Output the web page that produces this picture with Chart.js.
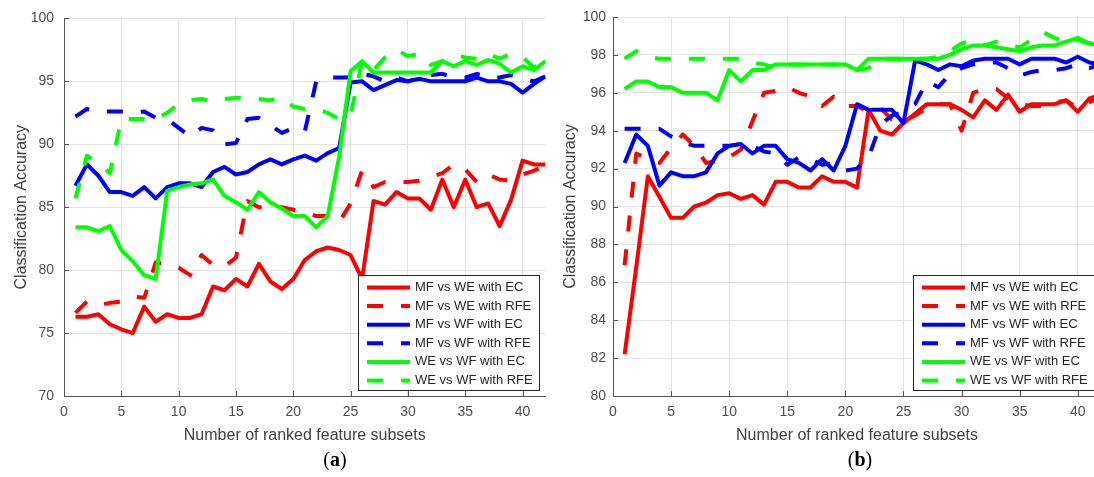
<!DOCTYPE html>
<html>
<head>
<meta charset="utf-8">
<script src="https://cdn.jsdelivr.net/npm/chart.js@4.4.1/dist/chart.umd.min.js"></script>
<style>
  html, body { margin: 0; padding: 0; background: #fff; overflow: hidden; width: 1094px; height: 477px; }
  canvas { position: absolute; top: 0; }
  #chartA { left: 0; }
  #chartB { left: 550px; }
  .caption { position: absolute; top: 448px; width: 60px; text-align: center;
    font-family: "Liberation Serif", serif; font-size: 20px; color: #000; }
</style>
</head>
<body>
<canvas id="chartA" width="555" height="450"></canvas>
<canvas id="chartB" width="555" height="450"></canvas>
<div class="caption" style="left:305px">(<b>a</b>)</div>
<div class="caption" style="left:830px">(<b>b</b>)</div>
<script>
// x: number of ranked feature subsets
const subsets = [1, 2, 3, 4, 5, 6, 7, 8, 9, 10, 11, 12, 13, 14, 15, 16, 17, 18, 19, 20, 21,
  22, 23, 24, 25, 26, 27, 28, 29, 30, 31, 32, 33, 34, 35, 36, 37, 38, 39, 40, 41, 42];
const xTicks = [0, 5, 10, 15, 20, 25, 30, 35, 40];

const seriesLabels = ["MF vs WE with EC", "MF vs WE with RFE", "MF vs WF with EC",
  "MF vs WF with RFE", "WE vs WF with EC", "WE vs WF with RFE"];

// panel (a)
const aMfWeEc = [76.3, 76.3, 76.5, 75.7, 75.3, 75.0, 77.1, 75.9, 76.5, 76.2, 76.2, 76.5, 78.7, 78.4,
  79.3, 78.7, 80.5, 79.1, 78.5, 79.3, 80.8, 81.5, 81.8, 81.6, 81.2, 79.3, 85.5, 85.2, 86.2, 85.7,
  85.7, 84.8, 87.2, 85.0, 87.2, 85.0, 85.3, 83.5, 85.6, 88.7, 88.4, 88.4];
const aMfWeRfe = [76.6, 77.5, 77.2, 77.4, 77.5, 77.9, 77.8, 80.6, 80.5, 80.2, 79.6, 81.2, 80.4, 80.3,
  81.0, 85.5, 85.0, 85.0, 85.0, 84.8, 84.6, 84.3, 84.3, 83.8, 85.3, 87.9, 86.6, 87.0, 87.0, 87.0,
  87.1, 87.4, 87.7, 88.4, 88.0, 87.0, 87.6, 87.2, 87.1, 87.6, 87.9, 88.3];
const aMfWfEc = [86.7, 88.4, 87.5, 86.2, 86.2, 85.9, 86.6, 85.7, 86.6, 86.9, 86.9, 86.6, 87.8, 88.2,
  87.6, 87.8, 88.4, 88.8, 88.4, 88.8, 89.1, 88.7, 89.3, 89.7, 94.9, 95.0, 94.3, 94.7, 95.1, 95.0,
  95.2, 95.0, 95.0, 95.0, 95.0, 95.3, 95.0, 95.0, 94.8, 94.1, 94.8, 95.4];
const aMfWfRfe = [92.2, 92.8, 92.6, 92.6, 92.6, 92.5, 92.6, 92.1, 92.0, 91.3, 90.6, 91.3, 91.1, 90.0,
  90.1, 92.0, 92.1, 91.5, 90.9, 91.3, 91.0, 95.0, 95.3, 95.3, 95.3, 95.6, 95.4, 95.0, 95.3, 95.0,
  95.3, 95.5, 95.6, 95.3, 95.3, 95.6, 95.3, 95.3, 95.5, 95.2, 95.0, 95.4];
const aWeWfEc = [83.4, 83.4, 83.1, 83.5, 81.6, 80.7, 79.6, 79.3, 86.3, 86.6, 86.8, 86.9, 87.2, 85.9,
  85.4, 84.8, 86.2, 85.4, 84.9, 84.3, 84.3, 83.4, 84.3, 89.0, 95.8, 96.6, 95.7, 95.7, 95.7, 95.7,
  95.7, 95.7, 96.6, 96.2, 96.6, 96.3, 96.7, 96.4, 95.7, 96.2, 95.9, 96.6];
const aWeWfRfe = [85.7, 89.1, 88.5, 87.7, 92.0, 92.0, 92.0, 92.0, 92.5, 93.2, 93.5, 93.6, 93.4, 93.6,
  93.7, 93.7, 93.6, 93.5, 93.7, 93.0, 92.8, 92.8, 92.5, 92.0, 92.3, 96.6, 95.9, 96.9, 97.5, 97.0,
  97.2, 96.3, 96.6, 97.1, 96.9, 96.8, 97.2, 96.8, 97.2, 96.9, 96.1, 96.6];

// panel (b)
const bMfWeEc = [82.2, 86.8, 91.6, 90.5, 89.4, 89.4, 90.0, 90.2, 90.6, 90.7, 90.4, 90.6, 90.1, 91.3,
  91.3, 91.0, 91.0, 91.6, 91.3, 91.3, 91.0, 95.1, 94.0, 93.8, 94.4, 94.9, 95.4, 95.4, 95.4, 95.1,
  94.7, 95.6, 95.1, 95.9, 95.0, 95.4, 95.4, 95.4, 95.6, 95.0, 95.7, 95.9];
const bMfWeRfe = [86.9, 92.8, 92.5, 92.3, 93.1, 93.8, 93.2, 92.3, 92.4, 92.6, 93.0, 94.5, 96.0, 96.1,
  96.3, 96.0, 95.8, 95.3, 95.8, 95.3, 95.3, 95.0, 95.2, 94.6, 94.5, 94.8, 95.2, 95.4, 95.4, 94.0,
  96.0, 96.2, 96.2, 95.7, 95.4, 95.3, 95.3, 95.5, 95.6, 95.2, 95.5, 95.8];
const bMfWfEc = [92.3, 93.8, 93.2, 91.1, 91.8, 91.6, 91.6, 91.8, 92.8, 93.2, 93.3, 92.8, 93.2, 93.2,
  92.5, 92.3, 91.9, 92.5, 91.9, 93.2, 95.4, 95.1, 95.1, 95.1, 94.4, 97.7, 97.5, 97.2, 97.5, 97.4,
  97.7, 97.8, 97.8, 97.8, 97.5, 97.8, 97.8, 97.8, 97.6, 97.9, 97.6, 97.5];
const bMfWfRfe = [94.1, 94.1, 94.1, 94.1, 93.7, 93.4, 93.2, 93.2, 93.2, 93.2, 93.3, 93.2, 92.9, 92.8,
  92.2, 92.6, 92.5, 92.2, 92.3, 91.9, 92.0, 92.6, 94.3, 94.8, 95.0, 95.4, 96.6, 96.3, 97.0, 97.3,
  97.5, 97.6, 97.6, 97.3, 96.9, 97.1, 97.2, 97.2, 97.3, 97.5, 97.3, 97.5];
const bWeWfEc = [96.2, 96.6, 96.6, 96.3, 96.3, 96.0, 96.0, 96.0, 95.6, 97.2, 96.6, 97.2, 97.2, 97.5,
  97.5, 97.5, 97.5, 97.5, 97.5, 97.5, 97.2, 97.8, 97.8, 97.8, 97.8, 97.8, 97.8, 97.8, 98.0, 98.3,
  98.5, 98.5, 98.4, 98.3, 98.2, 98.4, 98.5, 98.5, 98.7, 98.9, 98.6, 98.5];
const bWeWfRfe = [97.8, 98.2, 97.9, 97.8, 97.8, 97.8, 97.8, 97.8, 97.8, 97.8, 97.8, 97.6, 97.5, 97.3,
  97.5, 97.5, 97.5, 97.5, 97.5, 97.5, 97.2, 97.3, 97.8, 97.8, 97.8, 97.8, 97.8, 97.9, 98.2, 98.6,
  98.8, 98.5, 98.7, 98.5, 98.4, 98.8, 99.2, 98.9, 98.7, 98.8, 98.6, 98.9];

const lineColors = ["#ff0000", "#ff0000", "#0000ff", "#0000ff", "#00ff00", "#00ff00"];
const dashed = [false, true, false, true, false, true];
const DASH = [16, 18];

Chart.defaults.font.family = '"Liberation Sans", Arial, sans-serif';

// matlab style ticks pointing into the plot
const innerTicks = {
  id: "innerTicks",
  beforeDatasetsDraw(chart) {
    const { ctx, chartArea, scales } = chart;
    ctx.save();
    ctx.strokeStyle = "#555";
    ctx.lineWidth = 1;
    ctx.beginPath();
    scales.x.ticks.forEach((t) => {
      const px = Math.round(scales.x.getPixelForValue(t.value)) + 0.5;
      ctx.moveTo(px, chartArea.bottom);
      ctx.lineTo(px, chartArea.bottom - 5);
    });
    scales.y.ticks.forEach((t) => {
      const py = Math.round(scales.y.getPixelForValue(t.value)) + 0.5;
      ctx.moveTo(chartArea.left, py);
      ctx.lineTo(chartArea.left + 5, py);
    });
    ctx.stroke();
    ctx.restore();
  },
};

// legend box in the lower right corner of the plot
const boxLegend = {
  id: "boxLegend",
  afterDraw(chart) {
    const { ctx, chartArea } = chart;
    const w = 181, h = 115;
    const left = Math.round(chartArea.right - 7 - w);
    const top = Math.round(chartArea.bottom - 6 - h);
    ctx.save();
    ctx.fillStyle = "#fff";
    ctx.fillRect(left, top, w, h);
    ctx.strokeStyle = "#262626";
    ctx.lineWidth = 1;
    ctx.strokeRect(left + 0.5, top + 0.5, w, h);
    ctx.font = '13px "Liberation Sans", Arial, sans-serif';
    ctx.textBaseline = "middle";
    chart.data.datasets.forEach((ds, i) => {
      const y = top + 12.5 + i * 18.6;
      ctx.beginPath();
      ctx.strokeStyle = ds.borderColor;
      ctx.lineWidth = 4;
      ctx.setLineDash(ds.borderDash || []);
      ctx.moveTo(left + 9, y);
      ctx.lineTo(left + 52, y);
      ctx.stroke();
      ctx.setLineDash([]);
      ctx.fillStyle = "#262626";
      ctx.fillText(ds.label, left + 57, y);
    });
    ctx.restore();
  },
};

function makeChart(id, series, yMin, yMax, yStep, opt) {
  const datasets = series.map((vals, i) => ({
    label: seriesLabels[i],
    data: vals.map((v, k) => ({ x: subsets[k], y: v })),
    borderColor: lineColors[i],
    backgroundColor: lineColors[i],
    borderWidth: 4,
    borderDash: dashed[i] ? DASH : [],
    borderJoinStyle: "round",
    pointRadius: 0,
    tension: 0,
    fill: false,
    order: series.length - i,
  }));

  return new Chart(document.getElementById(id), {
    type: "line",
    data: { datasets },
    options: {
      responsive: false,
      animation: false,
      devicePixelRatio: 1,
      layout: { padding: { top: 17, right: opt.rightPad, left: 0, bottom: 0 } },
      plugins: { legend: { display: false }, tooltip: { enabled: false } },
      scales: {
        x: {
          type: "linear",
          min: 0,
          max: 42,
          afterBuildTicks: (s) => {
            s.ticks = xTicks.map((v) => ({ value: v }));
          },
          afterFit: (s) => {
            s.height = 54;
          },
          ticks: { maxRotation: 0, autoSkip: false, padding: 8,
            color: "#4d4d4d", font: { size: 14 } },
          grid: { color: "#e3e3e3", drawTicks: false },
          border: { color: "#555", width: 1 },
          title: { display: true, text: "Number of ranked feature subsets",
            color: "#404040", font: { size: 16 }, padding: { top: 0, bottom: 5 } },
        },
        y: {
          min: yMin,
          max: yMax,
          afterFit: (s) => {
            s.width = opt.yWidth;
          },
          ticks: { stepSize: yStep, padding: opt.yTickPad, color: "#4d4d4d", font: { size: 14 } },
          grid: { color: "#e3e3e3", drawTicks: false },
          border: { color: "#555", width: 1 },
          title: { display: true, text: "Classification Accuracy",
            color: "#404040", font: { size: 16 }, padding: { top: opt.yTitlePad, bottom: 0 } },
        },
      },
    },
    plugins: [innerTicks, boxLegend],
  });
}

makeChart("chartA", [aMfWeEc, aMfWeRfe, aMfWfEc, aMfWfRfe, aWeWfEc, aWeWfRfe], 70, 100, 5,
  { rightPad: 9.5, yWidth: 64, yTickPad: 10, yTitlePad: 12 });
makeChart("chartB", [bMfWeEc, bMfWeRfe, bMfWfEc, bMfWfRfe, bWeWfEc, bWeWfRfe], 80, 100, 2,
  { rightPad: 4, yWidth: 63, yTickPad: 7, yTitlePad: 11 });
</script>
</body>
</html>
